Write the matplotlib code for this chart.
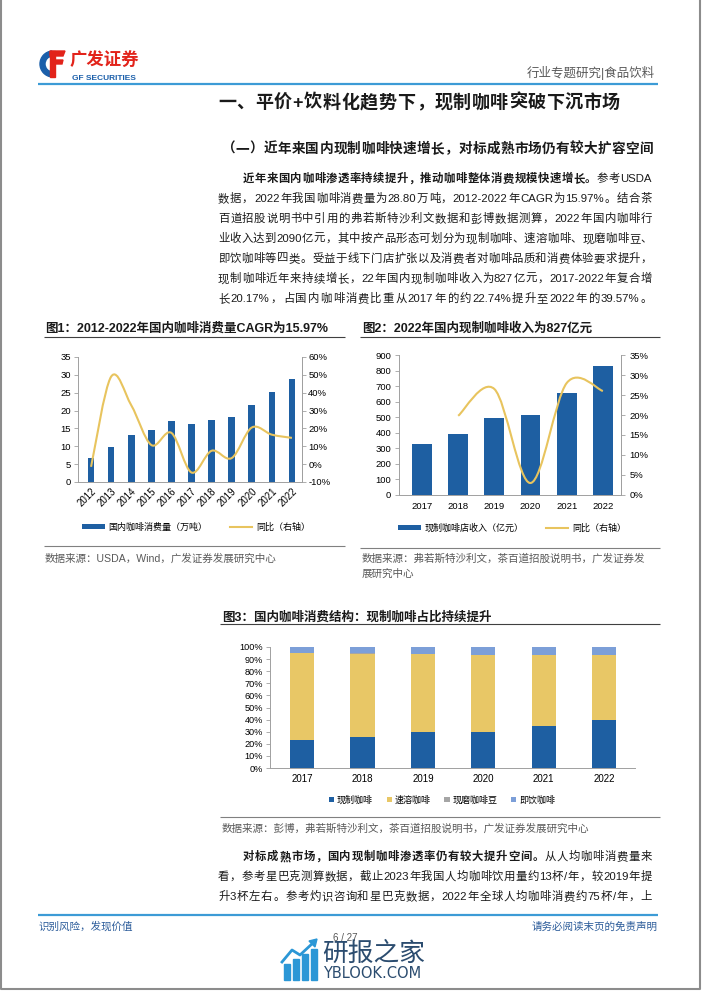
import re
import numpy as np
import matplotlib
matplotlib.use('Agg')
import matplotlib.pyplot as plt
from matplotlib.path import Path
from matplotlib.patches import PathPatch, Rectangle, Wedge, Polygon
from matplotlib.lines import Line2D

plt.rcParams['font.family'] = ['Liberation Sans', 'Noto Sans CJK SC', 'DejaVu Sans']

# ---- data ----
years1 = ['2012', '2013', '2014', '2015', '2016', '2017', '2018', '2019', '2020', '2021', '2022']
coffee_cons = [6.7, 9.8, 13.2, 14.6, 17.1, 16.2, 17.5, 18.1, 21.6, 25.3, 28.8]
coffee_yoy = [-1.5, 49, 33, 10.7, 17.5, -4.7, 7.5, 3.4, 20.5, 16.5, 14.7]

years2 = ['2017', '2018', '2019', '2020', '2021', '2022']
fresh_rev = [328, 393, 497, 512, 655, 827]
fresh_yoy = [19.8, 26.5, 3.0, 28.0, 26.0]   # 2018-2022

share_fresh = [22.74, 25.5, 29.9, 29.9, 34.6, 39.57]
share_instant = [72.0, 69.0, 64.3, 63.5, 58.8, 53.8]
share_beans = [0.3, 0.3, 0.3, 0.3, 0.3, 0.3]
share_rtd = [4.96, 5.2, 5.5, 6.3, 6.3, 6.33]
share_names = ['现制咖啡', '速溶咖啡', '现磨咖啡豆', '即饮咖啡']

BLUE = '#1E5FA2'
YELLOW = '#E8C45E'
YELLOW3 = '#E8C766'
LBLUE = '#7C9FD8'
GREY = '#A5A5A5'
AXC = '#A0A0A0'
TXT = '#1a1a1a'
SRC = '#595959'

W, H = 702, 991
fig = plt.figure(figsize=(W / 100, H / 100), dpi=100)
page = fig.add_axes([0, 0, 1, 1])
page.set_xlim(0, W)
page.set_ylim(H, 0)
page.axis('off')


def txt(x, y, s, size, **kw):
    # y is the visual centre of the line, in pixels from top
    kw.setdefault('color', TXT)
    return page.text(x, y + 0.37 * size * 100 / 72, s, fontsize=size, va='baseline', **kw)


def justify(x0, x1, y, segs, size, color=TXT):
    toks = []
    for s, wt in segs:
        for t in re.findall(r'[!-~]+|.', s):
            toks.append((t, wt))
    objs = [txt(0, y, t, size, weight=wt, color=color) for t, wt in toks]
    r = fig.canvas.get_renderer()
    ws = [o.get_window_extent(r).width for o in objs]
    gap = (x1 - x0 - sum(ws)) / max(len(objs) - 1, 1)
    x = x0
    for o, w in zip(objs, ws):
        o.set_x(x)
        x += w + gap


def hline(x0, x1, y, color, lw):
    page.plot([x0, x1], [y, y], color=color, lw=lw, solid_capstyle='butt')


def px_axes(x0, y0, x1, y1):
    return fig.add_axes([x0 / W, 1 - y1 / H, (x1 - x0) / W, (y1 - y0) / H])


def smooth_path(xs, ys):
    pts = np.column_stack([xs, ys]).astype(float)
    n = len(pts)
    verts = [pts[0]]
    codes = [Path.MOVETO]
    for i in range(n - 1):
        p0 = pts[i - 1] if i > 0 else pts[i]
        p3 = pts[i + 2] if i + 2 < n else pts[i + 1]
        verts += [pts[i] + (pts[i + 1] - p0) / 6, pts[i + 1] - (p3 - pts[i]) / 6, pts[i + 1]]
        codes += [Path.CURVE4] * 3
    return Path(verts, codes)


def style_axes(ax, sides):
    for k, s in ax.spines.items():
        s.set_visible(k in sides)
        s.set_color(AXC)
        s.set_linewidth(0.7)


# ---- page frame ----
page.plot([1, 1, 700, 700], [0, 989, 989, 0], color='#8c8c8c', lw=1.5)

# logo
page.add_patch(Wedge((53, 64), 13, 95, 265, width=5, color='#1B5FAA'))
page.add_patch(Polygon([[50, 51], [65, 51], [63, 56], [50, 56]], color='#E2231A'))
page.add_patch(Polygon([[53, 60], [63, 60], [62, 64], [53, 64]], color='#E2231A'))
page.add_patch(Rectangle((50, 51), 4.5, 26, color='#E2231A'))
txt(70, 58.5, '广发证券', 12.5, weight='bold', color='#E2231A')
txt(72, 77, 'GF SECURITIES', 6, weight='bold', color='#1B5FAA')
txt(655, 72, '行业专题研究|食品饮料', 9, color='#595959', ha='right')
hline(38, 658, 84, '#3C9BD6', 1.6)

# headings
justify(218, 620, 101, [('一、平价+饮料化趋势下，现制咖啡突破下沉市场', 'bold')], 13)
justify(222, 653, 148, [('（一）近年来国内现制咖啡快速增长，对标成熟市场仍有较大扩容空间', 'bold')], 9.8)

para1 = [
    (243, [('近年来国内咖啡渗透率持续提升，推动咖啡整体消费规模快速增长。', 'bold'), ('参考USDA', 'normal')]),
    (218, [('数据，2022年我国咖啡消费量为28.80万吨，2012-2022年CAGR为15.97%。结合茶', 'normal')]),
    (218, [('百道招股说明书中引用的弗若斯特沙利文数据和彭博数据测算，2022年国内咖啡行', 'normal')]),
    (218, [('业收入达到2090亿元，其中按产品形态可划分为现制咖啡、速溶咖啡、现磨咖啡豆、', 'normal')]),
    (218, [('即饮咖啡等四类。受益于线下门店扩张以及消费者对咖啡品质和消费体验要求提升，', 'normal')]),
    (218, [('现制咖啡近年来持续增长，22年国内现制咖啡收入为827亿元，2017-2022年复合增', 'normal')]),
    (218, [('长20.17%，占国内咖啡消费比重从2017年的约22.74%提升至2022年的39.57%。', 'normal')]),
]
for i, (x0, segs) in enumerate(para1):
    justify(x0, 652, 178 + 20 * i, segs, 8.2)

para2 = [
    (243, [('对标成熟市场，国内现制咖啡渗透率仍有较大提升空间。', 'bold'), ('从人均咖啡消费量来', 'normal')]),
    (218, [('看，参考星巴克测算数据，截止2023年我国人均咖啡饮用量约13杯/年，较2019年提', 'normal')]),
    (218, [('升3杯左右。参考灼识咨询和星巴克数据，2022年全球人均咖啡消费约75杯/年，上', 'normal')]),
]
for i, (x0, segs) in enumerate(para2):
    justify(x0, 652, 856 + 20 * i, segs, 8.2)

# chart titles / rules / sources
txt(45, 327, '图1：2012-2022年国内咖啡消费量CAGR为15.97%', 9, weight='bold')
hline(44, 345, 337, '#404040', 0.8)
hline(44, 345, 546, '#808080', 0.8)
txt(45, 558, '数据来源：USDA，Wind，广发证券发展研究中心', 7.6, color=SRC)

txt(362, 327, '图2：2022年国内现制咖啡收入为827亿元', 9, weight='bold')
hline(360, 660, 337, '#404040', 0.8)
hline(360, 660, 548, '#808080', 0.8)
txt(362, 558, '数据来源：弗若斯特沙利文，茶百道招股说明书，广发证券发', 7.6, color=SRC)
txt(362, 573, '展研究中心', 7.6, color=SRC)

txt(222, 616, '图3：国内咖啡消费结构：现制咖啡占比持续提升', 9, weight='bold')
hline(220, 660, 624, '#404040', 0.8)
hline(220, 660, 817, '#808080', 0.8)
txt(222, 828, '数据来源：彭博，弗若斯特沙利文，茶百道招股说明书，广发证券发展研究中心', 7.6, color=SRC)

# footer
hline(38, 658, 915, '#3C9BD6', 1.6)
txt(38, 926, '识别风险，发现价值', 7.6, color='#2C5C9A')
txt(658, 926, '请务必阅读末页的免责声明', 7.6, color='#2C5C9A', ha='right')
txt(345, 937, '6 / 27', 7, color='#555555', ha='center')

# watermark
for bx, top in zip([284, 293, 302, 311], [964, 959, 954, 949]):
    page.add_patch(Rectangle((bx, top), 5.5, 980 - top, color='#2B97D6'))
page.plot([282, 292, 300, 314], [962, 950, 955, 942], color='#2B97D6', lw=2)
page.add_patch(Polygon([[317, 939], [309, 941], [315, 947]], color='#2B97D6'))
txt(322, 951, '研报之家', 18.5, color='#2B4C6F')
txt(323, 973, 'YBLOOK.COM', 10.5, color='#2B4C6F', family=['DejaVu Sans'])

# ---- chart 1 ----
ax1 = px_axes(78, 357, 302, 482)
x1 = np.arange(len(years1))
bars1 = ax1.bar(x1, coffee_cons, width=0.33, color=BLUE, zorder=2)
ax1.set_xlim(-0.65, 10.5)
ax1.set_ylim(0, 35)
ax1.set_yticks(range(0, 36, 5))
ax1.set_xticks(x1)
ax1.set_xticklabels(years1, rotation=45, ha='right', va='top', rotation_mode='anchor')
ax1.tick_params(axis='x', length=0, pad=3, labelsize=7)
ax1.tick_params(axis='y', length=3, width=0.6, color=AXC, pad=2, labelsize=6.8)
ax1b = ax1.twinx()
ax1b.set_ylim(-10, 60)
ax1b.set_yticks(range(-10, 61, 10))
ax1b.set_yticklabels([f'{v}%' for v in range(-10, 61, 10)])
ax1b.tick_params(axis='y', length=3, width=0.6, color=AXC, pad=1.5, labelsize=6.8)
ax1b.add_patch(PathPatch(smooth_path(x1, coffee_yoy), fill=False, ec=YELLOW, lw=1.5, zorder=3))
style_axes(ax1, ('left', 'right', 'bottom'))
style_axes(ax1b, ('right',))
ax1.legend([bars1, Line2D([], [], color=YELLOW, lw=1.5)], ['国内咖啡消费量（万吨）', '同比（右轴）'],
           loc='center', bbox_to_anchor=(196, 527), bbox_transform=page.transData, ncol=2,
           frameon=False, fontsize=6.5, handlelength=2.5, handleheight=0.45,
           handletextpad=0.4, columnspacing=2.5)

# ---- chart 2 ----
ax2 = px_axes(399, 355, 621, 495)
x2 = np.arange(len(years2))
bars2 = ax2.bar(x2, fresh_rev, width=0.55, color=BLUE, zorder=2)
ax2.set_xlim(-0.635, 5.5)
ax2.set_ylim(0, 900)
ax2.set_yticks(range(0, 901, 100))
ax2.set_xticks(x2)
ax2.set_xticklabels(years2)
ax2.tick_params(axis='x', length=0, pad=5, labelsize=6.8)
ax2.tick_params(axis='y', length=3, width=0.6, color=AXC, pad=2.5, labelsize=6.8)
ax2b = ax2.twinx()
ax2b.set_ylim(0, 35)
ax2b.set_yticks(range(0, 36, 5))
ax2b.set_yticklabels([f'{v}%' for v in range(0, 36, 5)])
ax2b.tick_params(axis='y', length=3, width=0.6, color=AXC, pad=3, labelsize=6.8)
ax2b.add_patch(PathPatch(smooth_path(x2[1:], fresh_yoy), fill=False, ec=YELLOW, lw=1.5, zorder=3))
style_axes(ax2, ('left', 'right', 'bottom'))
style_axes(ax2b, ('right',))
ax2.legend([bars2, Line2D([], [], color=YELLOW, lw=1.5)], ['现制咖啡店收入（亿元）', '同比（右轴）'],
           loc='center', bbox_to_anchor=(512, 528), bbox_transform=page.transData, ncol=2,
           frameon=False, fontsize=6.5, handlelength=2.5, handleheight=0.45,
           handletextpad=0.4, columnspacing=2.5)

# ---- chart 3 ----
ax3 = px_axes(270, 647, 635, 768)
x3 = np.arange(len(years2))
bottom = np.zeros(len(years2))
handles = []
for vals, col, name in zip([share_fresh, share_instant, share_beans, share_rtd],
                           [BLUE, YELLOW3, GREY, LBLUE], share_names):
    handles.append(ax3.bar(x3, vals, width=0.4, bottom=bottom, color=col, label=name, zorder=2))
    bottom = bottom + np.array(vals)
ax3.set_xlim(-0.53, 5.51)
ax3.set_ylim(0, 100)
ax3.set_yticks(range(0, 101, 10))
ax3.set_yticklabels([f'{v}%' for v in range(0, 101, 10)])
ax3.set_xticks(x3)
ax3.set_xticklabels(years2)
ax3.tick_params(axis='x', length=0, pad=4.5, labelsize=7)
ax3.tick_params(axis='y', length=3, width=0.6, color=AXC, pad=2, labelsize=6.6)
style_axes(ax3, ('left', 'bottom'))
ax3.legend(handles, share_names, loc='center', bbox_to_anchor=(442, 800),
           bbox_transform=page.transData, ncol=4, frameon=False, fontsize=6.5,
           handlelength=0.6, handleheight=0.6, handletextpad=0.3, columnspacing=1.5)

fig.savefig('out.png', dpi=100)
